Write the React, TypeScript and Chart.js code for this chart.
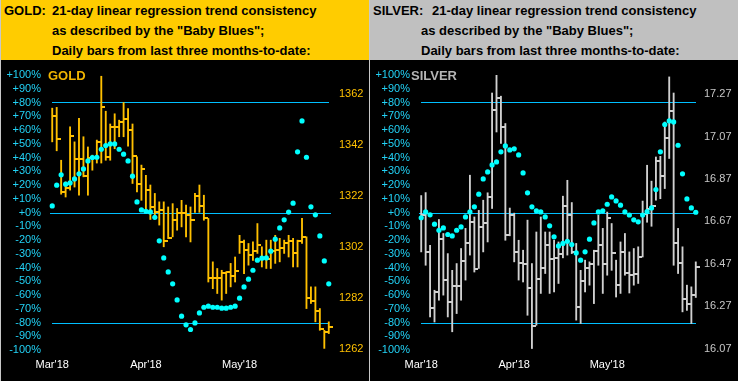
import React, { useEffect, useRef } from 'react';
import { Chart, registerables } from 'chart.js';

Chart.register(...registerables);

// ---- categories (trading days) ----
const tradingDays = [
  '2018-03-01', '2018-03-02', '2018-03-05', '2018-03-06', '2018-03-07', '2018-03-08', '2018-03-09',
  '2018-03-12', '2018-03-13', '2018-03-14', '2018-03-15', '2018-03-16', '2018-03-19', '2018-03-20',
  '2018-03-21', '2018-03-22', '2018-03-23', '2018-03-26', '2018-03-27', '2018-03-28', '2018-03-29',
  '2018-04-02', '2018-04-03', '2018-04-04', '2018-04-05', '2018-04-06', '2018-04-09', '2018-04-10',
  '2018-04-11', '2018-04-12', '2018-04-13', '2018-04-16', '2018-04-17', '2018-04-18', '2018-04-19',
  '2018-04-20', '2018-04-23', '2018-04-24', '2018-04-25', '2018-04-26', '2018-04-27', '2018-04-30',
  '2018-05-01', '2018-05-02', '2018-05-03', '2018-05-04', '2018-05-07', '2018-05-08', '2018-05-09',
  '2018-05-10', '2018-05-11', '2018-05-14', '2018-05-15', '2018-05-16', '2018-05-17', '2018-05-18',
  '2018-05-21', '2018-05-22', '2018-05-23', '2018-05-24', '2018-05-25', '2018-05-29', '2018-05-30',
];
const monthTickIndex = [0, 21, 42];
const monthTickLabels = ["Mar'18", "Apr'18", "May'18"];
const levelLines = [80, 0, -80];

// ---- GOLD ----
const goldHigh = [
  1356.3, 1356.6, 1335.9, 1327.4, 1349.0, 1343.1, 1352.3, 1345.1, 1341.1, 1337.9,
  1343.8, 1368.8, 1355.1, 1350.1, 1354.1, 1351.6, 1358.5, 1356.1, 1350.1, 1337.2,
  1334.0, 1330.0, 1326.2, 1322.9, 1319.6, 1319.6, 1317.6, 1318.9, 1317.0, 1320.2,
  1318.3, 1317.6, 1322.9, 1326.2, 1322.2, 1313.1, 1296.1, 1293.5, 1292.8, 1292.2,
  1295.5, 1298.0, 1306.5, 1304.6, 1303.3, 1303.9, 1311.1, 1302.0, 1304.6, 1304.6,
  1306.5, 1305.3, 1304.6, 1306.5, 1305.3, 1304.6, 1313.1, 1305.9, 1286.3, 1286.3,
  1277.8, 1269.3, 1272.6,
];
const goldLow = [
  1343.1, 1339.6, 1322.6, 1321.5, 1324.2, 1325.4, 1322.2, 1329.4, 1322.2, 1332.0,
  1334.8, 1334.8, 1335.9, 1335.9, 1340.4, 1345.1, 1345.1, 1341.4, 1326.8, 1323.5,
  1320.2, 1316.3, 1312.7, 1314.4, 1310.5, 1302.0, 1305.2, 1305.9, 1308.5, 1309.8,
  1305.9, 1303.9, 1315.5, 1315.5, 1312.4, 1288.2, 1285.6, 1283.7, 1281.1, 1283.7,
  1286.3, 1288.2, 1299.4, 1291.5, 1294.8, 1296.7, 1299.4, 1294.1, 1293.5, 1293.5,
  1295.5, 1296.1, 1299.4, 1298.0, 1294.1, 1294.1, 1303.3, 1277.8, 1279.8, 1272.6,
  1269.3, 1262.2, 1268.0,
];
const goldClose = [
  1353.3, 1344.1, 1323.5, 1324.9, 1345.3, 1336.4, 1336.4, 1329.8, 1336.7, 1336.8,
  1343.1, 1356.8, 1337.2, 1348.8, 1349.1, 1350.9, 1352.0, 1347.7, 1337.6, 1326.4,
  1332.3, 1324.4, 1317.6, 1315.5, 1316.3, 1304.3, 1305.6, 1312.4, 1315.2, 1315.1,
  1314.4, 1312.4, 1321.8, 1318.0, 1313.1, 1289.9, 1289.9, 1289.9, 1291.8, 1292.1,
  1290.5, 1292.4, 1303.9, 1300.9, 1298.7, 1300.4, 1302.6, 1297.8, 1297.4, 1300.4,
  1300.7, 1301.7, 1303.3, 1304.3, 1299.4, 1304.3, 1305.9, 1281.8, 1280.8, 1276.9,
  1269.7, 1268.7, 1270.6,
];
const goldBlues = [
  4.8, 19.9, 27.4, 20.6, 21.5, 24.4, 28.1, 31.7, 37.5, 40,
  40.2, 46, 48.7, 49.9, 49.9, 46, 42.4, 37.5, 26.4, 7.7,
  1.9, 0.9, 0.4, -3.5, -20.6, -33, -43.2, -51.9, -63.6, -75.4,
  -81.7, -85.1, -80.3, -73, -68.9, -68.1, -68.9, -68.9, -69.6, -69.6,
  -68.9, -68.1, -62.3, -54.1, -48.5, -42, -34.7, -33.2, -33, -28.1,
  -19.4, -11.2, -5.3, 0.3, 6.8, 44.1, 66.6, 40.2, 4.1, -1.7,
  -17, -35.2, -51.9,
];
const goldPriceTicks = [1262, 1282, 1302, 1322, 1342, 1362];
const goldPriceMin = 1261.57;
const goldPriceMax = 1369.29;

// ---- SILVER ----
const silverHigh = [
  16.792, 16.806, 16.557, 16.345, 16.679, 16.613, 16.518, 16.439, 16.471, 16.542,
  16.637, 16.888, 16.691, 16.722, 16.770, 16.805, 17.276, 17.360, 17.261, 17.132,
  16.733, 16.709, 16.581, 16.534, 16.676, 16.471, 16.620, 16.691, 16.620, 16.620,
  16.581, 16.573, 16.789, 16.864, 16.759, 16.566, 16.439, 16.487, 16.479, 16.534,
  16.699, 16.637, 16.714, 16.660, 16.487, 16.573, 16.613, 16.526, 16.542, 16.550,
  16.766, 16.935, 16.860, 16.974, 16.977, 17.139, 17.352, 17.276, 16.637, 16.550,
  16.369, 16.361, 16.479,
];
const silverLow = [
  16.526, 16.463, 16.219, 16.195, 16.298, 16.322, 16.219, 16.149, 16.235, 16.298,
  16.393, 16.511, 16.431, 16.448, 16.526, 16.573, 16.731, 17.092, 17.038, 16.581,
  16.602, 16.479, 16.393, 16.384, 16.227, 16.070, 16.180, 16.330, 16.424, 16.330,
  16.337, 16.377, 16.498, 16.511, 16.518, 16.204, 16.188, 16.337, 16.369, 16.282,
  16.463, 16.330, 16.416, 16.439, 16.313, 16.330, 16.416, 16.332, 16.369, 16.377,
  16.502, 16.666, 16.647, 16.770, 16.777, 16.825, 16.967, 16.463, 16.424, 16.243,
  16.250, 16.188, 16.311,
];
const silverClose = [
  16.702, 16.526, 16.261, 16.337, 16.586, 16.393, 16.290, 16.364, 16.364, 16.483,
  16.568, 16.668, 16.446, 16.644, 16.662, 16.785, 17.195, 17.252, 17.116, 16.608,
  16.702, 16.526, 16.474, 16.471, 16.358, 16.175, 16.400, 16.452, 16.557, 16.494,
  16.498, 16.518, 16.743, 16.699, 16.526, 16.266, 16.387, 16.448, 16.467, 16.531,
  16.557, 16.471, 16.688, 16.521, 16.369, 16.526, 16.427, 16.419, 16.424, 16.502,
  16.704, 16.727, 16.744, 16.955, 16.883, 17.064, 17.190, 16.568, 16.474, 16.306,
  16.282, 16.322, 16.455,
];
const silverBlues = [
  -3.8, 0.4, -1.7, -8.5, -12.9, -11.2, -16, -17, -12.9, -10.5,
  -3.2, 0.4, 4.1, 13.3, 24.4, 29.5, 34.6, 36.8, 44.1, 48.4,
  45.5, 46.3, 41.9, 28.8, 14.3, 4.1, 1.2, 0.4, -3.2, -9.7,
  -17.7, -24.3, -22.5, -20.9, -23.3, -29.4, -34.7, -28.6, -19.4, -7.6,
  0.4, 1.2, 6, 11.3, 8.4, 5.3, 0.4, -1.8, -5.3, -6.8,
  -1.8, 0.6, 3.3, 16.7, 44.1, 64, 66.6, 65.9, 48.9, 28.1,
  9.9, 3.3, 0.2,
];
const silverPriceTicks = [16.07, 16.27, 16.47, 16.67, 16.87, 17.07, 17.27];
const silverPriceMin = 16.063;
const silverPriceMax = 17.361;

// ---- styles ----
const FONT = "'Liberation Sans', Arial, Helvetica, sans-serif";
const PCT_COLOR = '#22D2F6';
const LINE_COLOR = '#00BFFF';
const DOT_COLOR = '#00FFFF';

Chart.defaults.font.family = FONT;

const levelLinePlugin = {
  id: 'levelLines',
  beforeDatasetsDraw(chart: any) {
    const { ctx, chartArea } = chart;
    const ys = chart.scales.y;
    const xs = chart.scales.x;
    const n = chart.data.labels.length;
    const x0 = xs.getPixelForValue(0);
    const x1 = xs.getPixelForValue(n - 1);
    ctx.save();
    ctx.fillStyle = LINE_COLOR;
    levelLines.forEach((v) => {
      const py = Math.round(ys.getPixelForValue(v));
      const left = v === 0 ? chartArea.left : Math.floor(x0);
      const right = v === 0 ? chartArea.right : Math.ceil(x1);
      ctx.fillRect(Math.round(left), py, Math.round(right - left), 1);
    });
    ctx.restore();
  },
};

function makeTickImage(color: string) {
  const c = document.createElement('canvas');
  c.width = 8;
  c.height = 2;
  const g = c.getContext('2d')!;
  g.fillStyle = color;
  g.fillRect(4, 0, 4, 2);
  return c;
}

type PanelProps = {
  high: number[];
  low: number[];
  close: number[];
  blues: number[];
  priceTicks: number[];
  priceMin: number;
  priceMax: number;
  decimals: number;
  barColor: string;
  priceColor: string;
  leftWidth: number;
  rightWidth: number;
  rightPad: number;
  width: number;
  height: number;
};

const noGrid = { display: false, drawTicks: false, tickLength: 0 };

function Panel(p: PanelProps) {
  const ref = useRef<HTMLCanvasElement | null>(null);
  useEffect(() => {
    if (!ref.current) return;
    const tickImg = makeTickImage(p.barColor);
    const chart = new Chart(ref.current, {
      type: 'bar',
      data: {
        labels: tradingDays,
        datasets: [
          {
            type: 'line',
            label: 'Baby Blues',
            data: p.blues,
            yAxisID: 'y',
            showLine: false,
            pointStyle: 'circle',
            pointRadius: 2.6,
            pointBackgroundColor: DOT_COLOR,
            pointBorderWidth: 0,
            order: 0,
          } as any,
          {
            type: 'line',
            label: 'Close',
            data: p.close,
            yAxisID: 'yp',
            showLine: false,
            pointStyle: tickImg,
            pointRadius: 3,
            order: 1,
          } as any,
          {
            type: 'bar',
            label: 'Range',
            data: p.low.map((lo, i) => [lo, p.high[i]]),
            yAxisID: 'yp',
            backgroundColor: p.barColor,
            borderWidth: 0,
            borderSkipped: false,
            barThickness: 1.2,
            order: 2,
          } as any,
        ],
      },
      options: {
        animation: false,
        responsive: false,
        devicePixelRatio: 1,
        events: [],
        layout: { padding: { top: 15, left: 0, right: 0, bottom: 0 } },
        plugins: {
          legend: { display: false },
          tooltip: { enabled: false },
          title: { display: false },
        },
        scales: {
          x: {
            type: 'category',
            offset: true,
            grid: noGrid,
            border: { display: false },
            ticks: {
              autoSkip: false,
              maxRotation: 0,
              minRotation: 0,
              color: '#FFFFFF',
              font: { size: 11, family: FONT },
              padding: 8,
              callback: (_v: any, i: number) => {
                const k = monthTickIndex.indexOf(i);
                return k >= 0 ? monthTickLabels[k] : '';
              },
            },
            afterFit: (s: any) => {
              s.height = 31;
            },
          },
          y: {
            type: 'linear',
            position: 'left',
            min: -100,
            max: 100,
            grid: noGrid,
            border: { display: false },
            ticks: {
              stepSize: 10,
              autoSkip: false,
              color: PCT_COLOR,
              font: { size: 11, family: FONT, lineHeight: 1 },
              padding: 9,
              callback: (v: any) => (Number(v) >= 0 ? '+' : '') + Math.round(Number(v)) + '%',
            },
            afterFit: (s: any) => {
              s.width = p.leftWidth;
            },
          },
          yp: {
            type: 'linear',
            position: 'right',
            min: p.priceMin,
            max: p.priceMax,
            grid: noGrid,
            border: { display: false },
            afterBuildTicks: (s: any) => {
              s.ticks = p.priceTicks.map((v) => ({ value: v }));
            },
            ticks: {
              autoSkip: false,
              color: p.priceColor,
              font: { size: 11, family: FONT, lineHeight: 1 },
              padding: p.rightPad,
              callback: (v: any) => Number(v).toFixed(p.decimals),
            },
            afterFit: (s: any) => {
              s.width = p.rightWidth;
            },
          },
        },
      } as any,
      plugins: [levelLinePlugin],
    });
    return () => chart.destroy();
  }, []);
  return <canvas ref={ref} width={p.width} height={p.height} style={{ display: 'block', width: p.width, height: p.height }} />;
}

const headerLine: React.CSSProperties = {
  position: 'absolute',
  whiteSpace: 'nowrap',
  fontFamily: FONT,
  fontWeight: 'bold',
  fontSize: 13,
  lineHeight: '20px',
  color: '#000',
};

export default function App() {
  return (
    <div style={{ position: 'relative', width: 738, height: 381, background: '#000', overflow: 'hidden' }}>
      <style>{'body{margin:0;background:#000;}'}</style>
      {/* headers */}
      <div style={{ position: 'absolute', left: 0, top: 0, width: 369, height: 60, background: '#FFCC00' }} />
      <div style={{ position: 'absolute', left: 370, top: 0, width: 368, height: 60, background: '#C0C0C0' }} />
      <div style={{ ...headerLine, left: 4, top: 1 }}>GOLD:</div>
      <div style={{ ...headerLine, left: 52, top: 1 }}>21-day linear regression trend consistency</div>
      <div style={{ ...headerLine, left: 52, top: 21 }}>as described by the "Baby Blues";</div>
      <div style={{ ...headerLine, left: 52, top: 41 }}>Daily bars from last three months-to-date:</div>
      <div style={{ ...headerLine, left: 373, top: 1 }}>SILVER:</div>
      <div style={{ ...headerLine, left: 432, top: 1 }}>21-day linear regression trend consistency</div>
      <div style={{ ...headerLine, left: 421, top: 21 }}>as described by the "Baby Blues";</div>
      <div style={{ ...headerLine, left: 421, top: 41 }}>Daily bars from last three months-to-date:</div>
      {/* borders */}
      <div style={{ position: 'absolute', left: 0, top: 0, width: 1, height: 381, background: '#C8C8C8' }} />
      <div style={{ position: 'absolute', left: 369, top: 0, width: 1, height: 381, background: '#C8C8C8' }} />
      {/* charts */}
      <div style={{ position: 'absolute', left: 0, top: 60 }}>
        <Panel
          high={goldHigh}
          low={goldLow}
          close={goldClose}
          blues={goldBlues}
          priceTicks={goldPriceTicks}
          priceMin={goldPriceMin}
          priceMax={goldPriceMax}
          decimals={0}
          barColor="#FFC000"
          priceColor="#FFC000"
          leftWidth={50}
          rightWidth={38}
          rightPad={8}
          width={369}
          height={321}
        />
      </div>
      <div style={{ position: 'absolute', left: 370, top: 60 }}>
        <Panel
          high={silverHigh}
          low={silverLow}
          close={silverClose}
          blues={silverBlues}
          priceTicks={silverPriceTicks}
          priceMin={silverPriceMin}
          priceMax={silverPriceMax}
          decimals={2}
          barColor="#D0D0D0"
          priceColor="#C8C8C8"
          leftWidth={49}
          rightWidth={40}
          rightPad={6}
          width={368}
          height={321}
        />
      </div>
      {/* in-chart names */}
      <div style={{ position: 'absolute', left: 48, top: 69, fontFamily: FONT, fontWeight: 'bold', fontSize: 13, lineHeight: '13px', color: '#F0B400' }}>GOLD</div>
      <div style={{ position: 'absolute', left: 411, top: 69, fontFamily: FONT, fontWeight: 'bold', fontSize: 13, lineHeight: '13px', color: '#B4B4B4' }}>SILVER</div>
    </div>
  );
}
